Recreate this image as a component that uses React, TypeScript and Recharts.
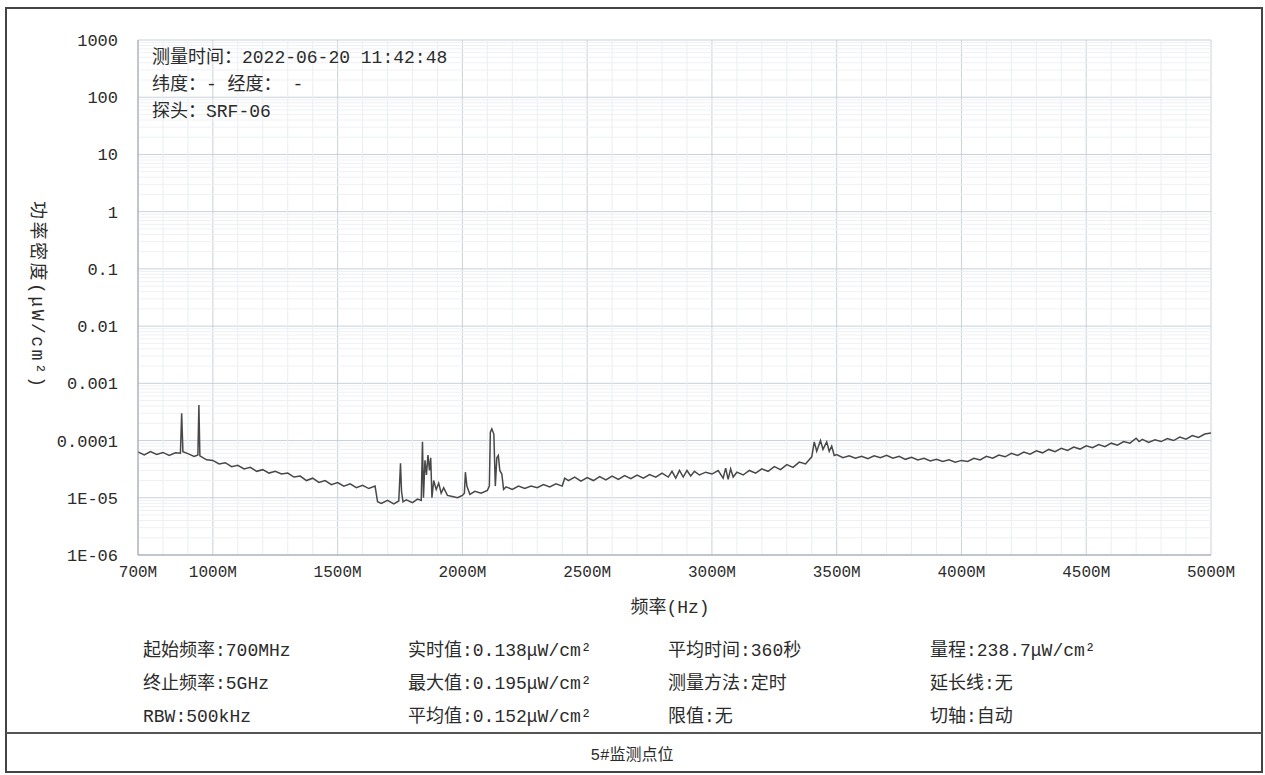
import React from 'react';
import { LineChart, Line, XAxis, YAxis, CartesianGrid, ReferenceLine } from 'recharts';

const freqMHz = [
  700, 725, 750, 775, 800, 825, 850, 870, 875, 880, 900, 925, 940, 944, 948, 975,
  1000, 1025, 1050, 1075, 1100, 1125, 1150, 1175, 1200, 1225, 1250, 1275, 1300, 1325, 1350, 1375,
  1400, 1425, 1450, 1475, 1500, 1525, 1550, 1575, 1600, 1625, 1650, 1660, 1675, 1700, 1725, 1745,
  1752, 1756, 1762, 1775, 1800, 1820, 1835, 1840, 1844, 1850, 1856, 1862, 1868, 1873, 1878, 1885,
  1895, 1905, 1915, 1925, 1940, 1960, 1980, 2000, 2008, 2012, 2018, 2030, 2050, 2075, 2100, 2108,
  2112, 2118, 2126, 2132, 2138, 2144, 2150, 2158, 2165, 2175, 2200, 2225, 2250, 2275, 2300, 2325,
  2350, 2375, 2400, 2410, 2425, 2450, 2475, 2500, 2525, 2550, 2575, 2600, 2625, 2650, 2675, 2700,
  2725, 2750, 2775, 2800, 2825, 2840, 2855, 2870, 2885, 2900, 2915, 2930, 2950, 2975, 3000, 3025,
  3045, 3055, 3065, 3075, 3085, 3100, 3125, 3150, 3175, 3200, 3225, 3250, 3275, 3300, 3325, 3350,
  3375, 3400, 3410, 3420, 3435, 3445, 3460, 3470, 3480, 3490, 3500, 3525, 3550, 3575, 3600, 3625,
  3650, 3675, 3700, 3725, 3750, 3775, 3800, 3825, 3850, 3875, 3900, 3925, 3950, 3975, 4000, 4025,
  4050, 4075, 4100, 4125, 4150, 4175, 4200, 4225, 4250, 4275, 4300, 4325, 4350, 4375, 4400, 4425,
  4450, 4475, 4500, 4525, 4550, 4575, 4600, 4625, 4650, 4675, 4700, 4712, 4725, 4750, 4775, 4800,
  4825, 4850, 4875, 4900, 4925, 4950, 4975, 5000,
];

const densityUW = [
  6.3e-5, 5.6e-5, 6.4e-5, 5.7e-5, 6.2e-5, 5.5e-5, 6.1e-5, 6.0e-5, 3.0e-4, 6.4e-5, 5.9e-5, 5.3e-5, 5.6e-5, 4.2e-4, 5.4e-5, 4.6e-5,
  4.5e-5, 3.9e-5, 4.1e-5, 3.5e-5, 3.7e-5, 3.2e-5, 3.4e-5, 2.9e-5, 3.1e-5, 2.7e-5, 2.9e-5, 2.6e-5, 2.7e-5, 2.3e-5, 2.4e-5, 2.0e-5,
  2.2e-5, 1.85e-5, 2.0e-5, 1.7e-5, 1.85e-5, 1.6e-5, 1.75e-5, 1.5e-5, 1.65e-5, 1.45e-5, 1.6e-5, 8.5e-6, 8.0e-6, 9.0e-6, 7.8e-6, 8.8e-6,
  4.0e-5, 1.3e-5, 8.5e-6, 9.2e-6, 8.2e-6, 9.5e-6, 9.0e-6, 9.5e-5, 1.0e-5, 4.5e-5, 2.5e-5, 5.6e-5, 3.0e-5, 5.0e-5, 1.0e-5, 2.0e-5,
  1.4e-5, 1.8e-5, 1.2e-5, 1.5e-5, 1.1e-5, 1.05e-5, 1.0e-5, 1.1e-5, 1.2e-5, 2.8e-5, 1.6e-5, 1.15e-5, 1.3e-5, 1.2e-5, 1.35e-5, 1.6e-5,
  1.4e-4, 1.6e-4, 1.3e-4, 1.6e-5, 5.0e-5, 5.5e-5, 3.0e-5, 2.6e-5, 1.4e-5, 1.55e-5, 1.4e-5, 1.6e-5, 1.45e-5, 1.6e-5, 1.5e-5, 1.7e-5,
  1.55e-5, 1.75e-5, 1.6e-5, 2.2e-5, 2.0e-5, 2.3e-5, 1.95e-5, 2.25e-5, 2.0e-5, 2.35e-5, 2.05e-5, 2.4e-5, 2.1e-5, 2.45e-5, 2.15e-5, 2.5e-5,
  2.2e-5, 2.55e-5, 2.3e-5, 2.7e-5, 2.3e-5, 2.9e-5, 2.2e-5, 3.0e-5, 2.3e-5, 3.0e-5, 2.4e-5, 2.9e-5, 2.5e-5, 2.8e-5, 2.6e-5, 3.0e-5,
  2.2e-5, 3.3e-5, 2.1e-5, 3.2e-5, 2.3e-5, 2.8e-5, 2.5e-5, 3.0e-5, 2.7e-5, 3.2e-5, 2.9e-5, 3.5e-5, 3.1e-5, 3.8e-5, 3.4e-5, 4.2e-5,
  3.9e-5, 5.2e-5, 9.5e-5, 6.5e-5, 1.0e-4, 7.0e-5, 9.5e-5, 6.5e-5, 8.0e-5, 5.5e-5, 5.7e-5, 5.0e-5, 5.4e-5, 4.9e-5, 5.3e-5, 4.8e-5,
  5.4e-5, 5.0e-5, 5.5e-5, 4.9e-5, 5.3e-5, 4.7e-5, 5.1e-5, 4.6e-5, 4.9e-5, 4.4e-5, 4.7e-5, 4.3e-5, 4.6e-5, 4.2e-5, 4.5e-5, 4.3e-5,
  4.9e-5, 4.6e-5, 5.3e-5, 4.9e-5, 5.6e-5, 5.2e-5, 6.0e-5, 5.5e-5, 6.3e-5, 5.8e-5, 6.6e-5, 6.1e-5, 7.0e-5, 6.4e-5, 7.3e-5, 6.7e-5,
  7.7e-5, 7.1e-5, 8.1e-5, 7.5e-5, 8.5e-5, 7.8e-5, 9.0e-5, 8.3e-5, 9.6e-5, 9.0e-5, 1.1e-4, 9.6e-5, 1.05e-4, 9.3e-5, 1.03e-4, 9.6e-5,
  1.08e-4, 1.0e-4, 1.15e-4, 1.06e-4, 1.22e-4, 1.13e-4, 1.3e-4, 1.35e-4,
];

const xTicks = [700, 1000, 1500, 2000, 2500, 3000, 3500, 4000, 4500, 5000];
const xTickLabels = ['700M', '1000M', '1500M', '2000M', '2500M', '3000M', '3500M', '4000M', '4500M', '5000M'];
const yTicks = [1e-6, 1e-5, 1e-4, 1e-3, 0.01, 0.1, 1, 10, 100, 1000];
const yTickLabels = ['1E-06', '1E-05', '0.0001', '0.001', '0.01', '0.1', '1', '10', '100', '1000'];

const minorX = [
  800, 900, 1100, 1200, 1300, 1400, 1600, 1700, 1800, 1900, 2100, 2200, 2300, 2400,
  2600, 2700, 2800, 2900, 3100, 3200, 3300, 3400, 3600, 3700, 3800, 3900, 4100, 4200,
  4300, 4400, 4600, 4700, 4800, 4900,
];
const decades = [1e-6, 1e-5, 1e-4, 1e-3, 0.01, 0.1, 1, 10, 100];
const mantissas = [2, 3, 4, 5, 6, 7, 8, 9];

const annotationLines = ['测量时间：2022-06-20 11:42:48', '纬度：- 经度：  -', '探头：SRF-06'];

const infoColumns = [
  ['起始频率:700MHz', '终止频率:5GHz', 'RBW:500kHz'],
  ['实时值:0.138μW/cm²', '最大值:0.195μW/cm²', '平均值:0.152μW/cm²'],
  ['平均时间:360秒', '测量方法:定时', '限值:无'],
  ['量程:238.7μW/cm²', '延长线:无', '切轴:自动'],
];

const xAxisTitle = '频率(Hz)';
const yAxisTitle = '功率密度(μW/cm²)';
const footerTitle = '5#监测点位';

const data = freqMHz.map((f, i) => ({ f, v: densityUW[i] }));
const minorY = decades.flatMap((d) => mantissas.map((m) => m * d));

const FONT = '"Liberation Mono", "Noto Sans CJK SC", monospace';
const TEXT = '#2b2b2b';

const XTick = (props: any) => {
  const { x, y, payload } = props;
  const idx = xTicks.indexOf(payload.value);
  return (
    <text x={x} y={y} dy={14} textAnchor="middle" fontFamily={FONT} fontSize={16} fill={TEXT}>
      {idx >= 0 ? xTickLabels[idx] : ''}
    </text>
  );
};

const YTick = (props: any) => {
  const { x, y, payload } = props;
  const idx = yTicks.findIndex((t) => Math.abs(Math.log10(t) - Math.log10(payload.value)) < 1e-6);
  return (
    <text x={x} y={y} dy={6} textAnchor="end" fontFamily={FONT} fontSize={17} fill={TEXT}>
      {idx >= 0 ? yTickLabels[idx] : ''}
    </text>
  );
};

export default function App() {
  return (
    <div style={{ position: 'absolute', left: 0, top: 0, width: 1265, height: 775, background: '#fff', overflow: 'hidden' }}>
      <div style={{ position: 'absolute', left: 0, top: 0 }}>
        <LineChart width={1265} height={600} data={data} margin={{ top: 40, right: 54, bottom: 15, left: 58 }}>
          {minorX.map((v) => (
            <ReferenceLine key={'mx' + v} x={v} stroke="#eaeef2" strokeWidth={1} ifOverflow="hidden" />
          ))}
          {minorY.map((v) => (
            <ReferenceLine key={'my' + v} y={v} stroke="#eef1f4" strokeWidth={1} ifOverflow="hidden" />
          ))}
          <CartesianGrid stroke="#c9d1da" strokeWidth={1} />
          <XAxis
            dataKey="f"
            type="number"
            domain={[700, 5000]}
            ticks={xTicks}
            interval={0}
            height={30}
            tickLine={false}
            tickSize={0}
            tickMargin={8}
            axisLine={{ stroke: '#9aa3ad' }}
            tick={<XTick />}
            allowDataOverflow
          />
          <YAxis
            type="number"
            scale="log"
            domain={[1e-6, 1000]}
            ticks={yTicks}
            interval={0}
            width={80}
            tickLine={false}
            tickSize={0}
            tickMargin={20}
            axisLine={{ stroke: '#9aa3ad' }}
            tick={<YTick />}
            allowDataOverflow
          />
          <Line
            type="linear"
            dataKey="v"
            stroke="#484848"
            strokeWidth={1.5}
            dot={false}
            isAnimationActive={false}
          />
        </LineChart>
      </div>
      <svg
        width={1265}
        height={775}
        style={{ position: 'absolute', left: 0, top: 0, pointerEvents: 'none' }}
      >
        <rect x={6} y={8} width={1256} height={764} fill="none" stroke="#444" strokeWidth={2} />
        <line x1={6} y1={733} x2={1262} y2={733} stroke="#555" strokeWidth={2} />
        {annotationLines.map((t, i) => (
          <text key={t} x={152} y={63 + i * 27} fontFamily={FONT} fontSize={18} fill={TEXT}>
            {t}
          </text>
        ))}
        <text
          x={0}
          y={0}
          transform="translate(32,294) rotate(90)"
          textAnchor="middle"
          fontFamily={FONT}
          fontSize={18}
          fill={TEXT}
          textLength={186}
          lengthAdjust="spacing"
        >
          {yAxisTitle}
        </text>
        <text x={670} y={613} textAnchor="middle" fontFamily={FONT} fontSize={18} fill={TEXT}>
          {xAxisTitle}
        </text>
        {infoColumns.map((col, ci) =>
          col.map((t, ri) => (
            <text
              key={t}
              x={[143, 408, 668, 930][ci]}
              y={656 + ri * 33}
              fontFamily={FONT}
              fontSize={18}
              fill={TEXT}
            >
              {t}
            </text>
          ))
        )}
        <text x={632} y={760} textAnchor="middle" fontFamily={FONT} fontSize={16} fill={TEXT}>
          {footerTitle}
        </text>
      </svg>
    </div>
  );
}
